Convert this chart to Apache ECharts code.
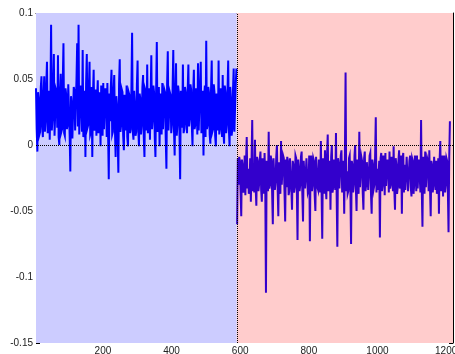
<!DOCTYPE html>
<html>
<head>
<meta charset="utf-8">
<script src="https://cdn.jsdelivr.net/npm/echarts@6/dist/echarts.min.js"></script>
<style>
html, body { margin: 0; padding: 0; background: #fff; }
#main { width: 455px; height: 354px; }
</style>
</head>
<body>
<div id="main"></div>
<script>
// samples, one every 2 steps
var stepX = 2;
var firstXA = 5;     // regime A starts here
var firstXB = 591;   // regime B starts right after the break
var breakX = 590;

// regime A (blue background), x = 5 .. 589
var regimeA = [
  .043, .012, -.005, .040, .035, .008, .010, .044, .052, .014,
  .006, .038, .052, .010, .018, .046, .063, .009, .012, .041,
  .004, .036, .091, .011, .020, .045, .069, .007, .008, .042,
  .040, .013, .068, .006, .000, .039, .054, .010, .012, .048,
  .077, .009, .007, .043, .038, .012, .015, .046, .045, .008,
  -.020, .037, .030, .005, .004, .044, .041, .011, .012, .050,
  .077, .014, .091, .008, .007, .045, .040, .010, .072, .006,
  .012, .041, -.009, .047, .069, .013, .015, .043, .063, .008,
  .010, .044, -.009, .038, .057, .011, .014, .042, .007, .036,
  .049, .009, .015, .040, -.001, .045, .040, .007, .047, .012,
  .012, .043, .035, .006, .047, .010, -.026, .039, .018, .044,
  .057, .008, .010, .041, .053, .012, -.009, .037, .030, .005,
  -.021, .046, .065, .010, .015, .042, .040, .007, -.004, .038,
  .025, .011, .045, .006, -.001, .040, .038, .009, .012, .043,
  .085, .010, .004, .041, .030, .007, .010, .046, .064, .012,
  -.001, .039, .035, .008, .015, .044, .053, .006, -.009, .042,
  .040, .011, .061, .009, .010, .043, .004, .037, .068, .012,
  .020, .045, .040, .006, -.009, .041, .078, .010, .015, .044,
  -.001, .039, .035, .008, .047, .012, .012, .042, .040, .005,
  -.018, .046, .071, .011, .010, .040, .038, .009, .015, .043,
  .072, .012, -.008, .038, .062, .007, .015, .045, .040, .010,
  -.026, .041, .035, .013, .061, .009, .012, .044, .040, .016,
  .009, .042, .061, .014, .020, .046, .042, .015, -.001, .040,
  .057, .012, .015, .043, .040, .008, .062, .011, .012, .045,
  .063, .009, .010, .041, -.008, .037, .045, .006, .079, .012,
  .015, .044, .040, .008, .001, .042, .064, .010, .012, .046,
  .040, .007, -.001, .039, .035, .011, .064, .008, .012, .043,
  .038, .006, .053, .010, .001, .045, .040, .009, .015, .041,
  .064, .012, -.001, .044, .035, .007, .012, .042, .058, .010,
  .010, .046, .058
];

// regime B (pink background), x = 591 .. 1211
var regimeB = [
  -.060, -.010, -.030, -.009, -.012, -.034, -.054, -.011, -.015, -.036,
  -.032, -.008, -.038, -.013, .006, -.033, -.018, -.037, -.034, -.010,
  -.043, -.012, .019, -.035, -.020, -.036, .004, -.032, -.046, -.009,
  -.012, -.035, -.030, -.011, -.005, -.034, -.043, -.010, -.020, -.037,
  -.006, -.031, -.112, -.012, -.015, -.035, .010, -.033, -.030, -.008,
  -.012, -.036, -.060, -.010, -.011, -.034, -.028, -.009, .000, -.032,
  -.054, -.013, -.014, -.037, .003, -.030, -.030, -.008, -.010, -.035,
  -.058, -.011, -.032, -.009, -.012, -.038, -.035, -.010, -.009, -.033,
  -.049, -.012, -.015, -.036, -.032, -.008, -.010, -.034, -.072, -.011,
  -.018, -.035, -.030, -.009, -.005, -.037, -.058, -.012, -.012, -.033,
  -.033, -.010, -.010, -.036, -.034, -.008, -.073, -.013, -.008, -.035,
  -.030, -.010, -.012, -.038, -.050, -.009, -.008, -.032, -.034, -.011,
  -.012, -.036, .003, -.034, -.071, -.010, -.015, -.037, -.004, -.031,
  -.041, -.008, .008, -.035, -.030, -.012, -.049, -.009, .000, -.036,
  -.032, -.011, -.012, -.034, .009, -.038, -.077, -.010, -.015, -.033,
  -.033, -.008, -.004, -.036, -.030, -.012, -.052, -.009, .055, -.035,
  -.020, -.037, -.035, -.010, -.008, -.034, -.075, -.012, -.015, -.036,
  -.030, -.008, .000, -.033, -.050, -.011, -.012, -.037, .010, -.032,
  -.033, -.009, -.012, -.036, -.049, -.010, -.005, -.035, -.030, -.013,
  -.012, -.034, -.034, -.008, -.006, -.037, -.052, -.011, -.015, -.033,
  -.030, -.009, .021, -.036, -.018, -.034, -.034, -.012, -.070, -.010,
  -.006, -.035, -.030, -.008, -.012, -.038, -.006, -.031, -.032, -.011,
  -.015, -.036, -.005, -.033, -.030, -.009, -.012, -.035, -.001, -.034,
  -.049, -.010, -.015, -.037, -.032, -.012, -.004, -.033, -.030, -.008,
  -.052, -.011, -.006, -.036, -.015, -.034, -.033, -.009, -.010, -.035,
  -.036, -.012, -.008, -.032, -.039, -.010, -.012, -.037, -.030, -.008,
  -.015, -.035, -.008, -.033, -.034, -.011, -.012, -.036, .019, -.034,
  -.062, -.009, -.015, -.037, -.005, -.032, -.032, -.010, -.012, -.035,
  -.004, -.033, -.054, -.012, -.015, -.036, -.030, -.009, -.008, -.034,
  -.012, -.037, -.033, -.010, -.052, -.011, .003, -.035, -.030, -.008,
  -.039, -.012, -.008, -.036, -.030, -.010, -.012, -.034, -.066, -.009,
  .018
];

var xTicks = [200, 400, 600, 800, 1000, 1200];
var yTicks = [-0.15, -0.1, -0.05, 0, 0.05, 0.1];

var fontColor = '#222';

function toPairs(values, x0) {
  var out = [];
  for (var i = 0; i < values.length; i++) {
    out.push([x0 + i * stepX, values[i]]);
  }
  return out;
}

var chart = echarts.init(document.getElementById('main'));

var option = {
  animation: false,
  grid: { left: 36, right: 2, top: 13, bottom: 11, containLabel: false, outerBoundsMode: 'none' },
  xAxis: [
    {
      type: 'value', min: 5, max: 1220,
      axisLine: { show: false },
      axisTick: { show: true, inside: true, length: 4, customValues: xTicks, lineStyle: { color: '#000' } },
      axisLabel: {
        customValues: xTicks, color: fontColor, fontSize: 10, fontFamily: 'Liberation Sans', margin: 3,
        formatter: function (v) { return String(v); }
      },
      splitLine: { show: false }
    },
    {
      type: 'value', min: 5, max: 1220, position: 'top',
      axisLine: { show: true, onZero: false, lineStyle: { color: '#000', width: 1 } },
      axisTick: { show: true, inside: true, length: 4, customValues: xTicks, lineStyle: { color: '#000' } },
      axisLabel: { show: false },
      splitLine: { show: false }
    }
  ],
  yAxis: [
    {
      type: 'value', min: -0.15, max: 0.1,
      axisLine: { show: false },
      axisTick: { show: true, inside: true, length: 4, customValues: yTicks, lineStyle: { color: '#000' } },
      axisLabel: { customValues: yTicks, color: fontColor, fontSize: 10, fontFamily: 'Liberation Sans', margin: 3 },
      splitLine: { show: false }
    },
    {
      type: 'value', min: -0.15, max: 0.1, position: 'right',
      axisLine: { show: true, onZero: false, lineStyle: { color: '#000', width: 1 } },
      axisTick: { show: true, inside: true, length: 4, customValues: yTicks, lineStyle: { color: '#000' } },
      axisLabel: { show: false },
      splitLine: { show: false }
    }
  ],
  series: [
    {
      // shaded backgrounds
      type: 'line', data: [], z: 0, silent: true,
      markArea: {
        silent: true,
        data: [
          [{ xAxis: 5, itemStyle: { color: '#ccccff' } }, { xAxis: breakX }],
          [{ xAxis: breakX, itemStyle: { color: '#ffcccc' } }, { xAxis: 1220 }]
        ]
      }
    },
    {
      type: 'line', z: 3, showSymbol: false, symbol: 'none',
      data: toPairs(regimeA, firstXA),
      lineStyle: { color: '#0000ff', width: 2, join: 'miter' }
    },
    {
      type: 'line', z: 3, showSymbol: false, symbol: 'none',
      data: toPairs(regimeB, firstXB),
      lineStyle: { color: '#3300cc', width: 2, join: 'miter' }
    },
    {
      // dotted reference lines on top
      type: 'line', data: [], z: 5, silent: true,
      markLine: {
        silent: true, symbol: 'none',
        label: { show: false },
        lineStyle: { color: '#000', type: 'dotted', width: 1 },
        data: [{ yAxis: 0 }, { xAxis: breakX }]
      }
    }
  ]
};

chart.setOption(option);
</script>
</body>
</html>
